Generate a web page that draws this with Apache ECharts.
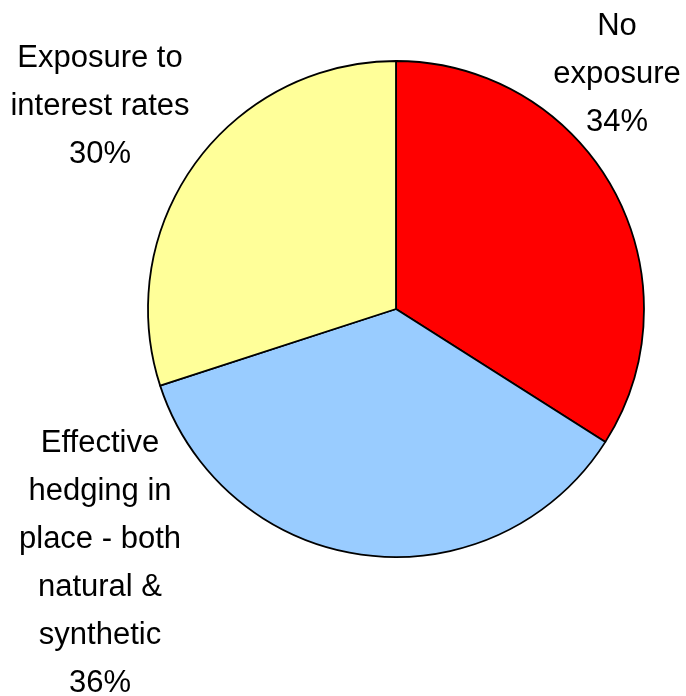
<!DOCTYPE html>
<html lang="en">
<head>
    <meta charset="UTF-8">
    <title>Interest rate exposure</title>
    <style>
        * {
            padding: 0;
            margin: 0;
        }

        .EC {
            width: 686px;
            height: 696px;
            background: #fff;
        }
    </style>
    <script src="https://cdn.jsdelivr.net/npm/echarts@6.0.0/dist/echarts.min.js"></script>
</head>
<body>
<div class="EC"></div>
<script>
    // slices, clockwise from 12 o'clock
    const names = ['No\nexposure', 'Effective\nhedging in\nplace - both\nnatural &\nsynthetic', 'Exposure to\ninterest rates']
    const shares = [34, 36, 30]
    const colors = ['#ff0000', '#99ccff', '#ffff99']

    window.onload = () => {
        let EC = echarts.init(document.querySelector('.EC'))
        // where each label block sits (centre of the text)
        const labelSpots = [[617, 74], [100, 563], [100, 106]]
        let option = {
            backgroundColor: '#fff',
            animation: false,
            series: [{
                type: 'pie',
                center: [396, 309],
                radius: 248,
                startAngle: 90,
                clockwise: true,
                avoidLabelOverlap: false,
                data: names.map((n, i) => ({
                    name: n,
                    value: shares[i],
                    itemStyle: {color: colors[i]}
                })),
                itemStyle: {
                    borderColor: '#000',
                    borderWidth: 1.8
                },
                label: {
                    show: true,
                    position: 'outside',
                    formatter: '{b}\n{c}%',
                    color: '#000',
                    fontFamily: '"Liberation Sans", Arial, sans-serif',
                    fontSize: 31,
                    lineHeight: 48,
                    align: 'center',
                    overflow: 'none',
                    width: 300
                },
                labelLine: {show: false},
                labelLayout: params => ({
                    x: labelSpots[params.dataIndex][0],
                    y: labelSpots[params.dataIndex][1],
                    align: 'center',
                    verticalAlign: 'middle',
                    hideOverlap: false
                }),
                emphasis: {disabled: true}
            }]
        }
        EC.setOption(option)
    }
</script>
</body>
</html>
